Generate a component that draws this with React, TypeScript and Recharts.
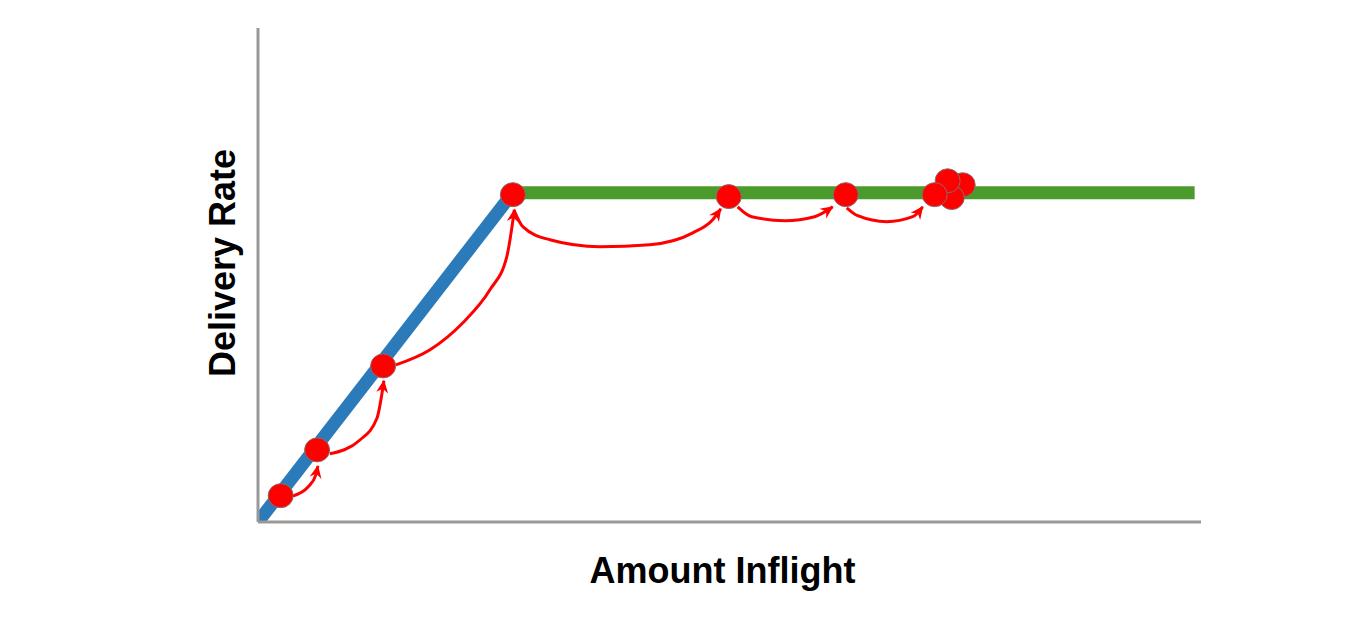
import React from 'react'
import { ComposedChart, Line, Scatter, XAxis, YAxis } from 'recharts'

// x: amount inflight (1 = knee), y: delivery rate (1 = plateau)
const rampLine = [
  { x: 0, y: 0 },
  { x: 1, y: 1 },
]

const plateauLine = [
  { x: 1, y: 1 },
  { x: 3.675, y: 1 },
]

// probe points, drawn in this order (later ones on top)
const probes = [
  { x: 0.089, y: 0.08 },
  { x: 0.232, y: 0.219 },
  { x: 0.491, y: 0.474 },
  { x: 1.0, y: 0.994 },
  { x: 1.847, y: 0.988 },
  { x: 2.306, y: 0.994 },
  { x: 2.765, y: 1.024 },
  { x: 2.722, y: 0.985 },
  { x: 2.706, y: 1.036 },
  { x: 2.655, y: 0.994 },
]

// curved arrows between successive probes
const arrowXs = [
  [0.137, 0.196, 0.227, 0.235],
  [0.282, 0.4, 0.467, 0.494],
  [0.541, 0.675, 0.804, 0.91, 0.976, 1.006],
  [1.004, 1.039, 1.145, 1.341, 1.537, 1.706, 1.784, 1.816],
  [1.882, 1.937, 2.067, 2.184, 2.255],
  [2.31, 2.353, 2.467, 2.569, 2.608],
]
const arrowYs = [
  [0.079, 0.106, 0.143, 0.17],
  [0.207, 0.249, 0.316, 0.429],
  [0.477, 0.523, 0.605, 0.705, 0.805, 0.948],
  [0.948, 0.897, 0.857, 0.836, 0.842, 0.878, 0.918, 0.951],
  [0.957, 0.927, 0.915, 0.927, 0.957],
  [0.954, 0.93, 0.912, 0.927, 0.957],
]

const arrows = arrowXs.map((xs, i) => xs.map((x, j) => ({ x, y: arrowYs[i][j] })))

const font = '"Liberation Sans", Arial, sans-serif'

const ProbeDot = (props: any) => {
  const { cx, cy } = props
  return <ellipse cx={cx} cy={cy} rx={12.5} ry={12} fill="#ff0000" stroke="#8a6a6a" strokeWidth={1} />
}

export default function App() {
  return (
    <div style={{ position: 'relative' }}>
      <svg width={0} height={0} style={{ position: 'absolute' }}>
        <defs>
          <marker
            id="arrowHead"
            markerUnits="userSpaceOnUse"
            markerWidth={16}
            markerHeight={16}
            refX={12}
            refY={7}
            orient="auto"
          >
            <path d="M0,1 L13,7 L0,13 L4,7 z" fill="#ff0000" />
          </marker>
        </defs>
      </svg>
      <ComposedChart
        width={1350}
        height={619}
        margin={{ top: 20, right: 157, bottom: 25, left: 170 }}
      >
        <XAxis
          dataKey="x"
          type="number"
          domain={[0, 3.7]}
          allowDataOverflow
          tick={false}
          tickLine={false}
          height={80}
          axisLine={{ stroke: '#999', strokeWidth: 3 }}
          label={{
            value: 'Amount Inflight',
            position: 'center',
            dx: -7,
            dy: 8,
            style: { fontFamily: font, fontSize: 36, fontWeight: 'bold', fill: '#000' },
          }}
        />
        <YAxis
          dataKey="y"
          type="number"
          domain={[0, 1.5]}
          allowDataOverflow
          tick={false}
          tickLine={false}
          width={80}
          axisLine={{ stroke: '#999', strokeWidth: 3 }}
          label={{
            value: 'Delivery Rate',
            angle: -90,
            position: 'center',
            dx: 4,
            dy: -12,
            style: { fontFamily: font, fontSize: 36, fontWeight: 'bold', fill: '#000' },
          }}
        />
        <Line
          data={rampLine}
          dataKey="y"
          type="linear"
          stroke="#2b7bba"
          strokeWidth={13}
          dot={false}
          activeDot={false}
          isAnimationActive={false}
        />
        <Line
          data={plateauLine}
          dataKey="y"
          type="linear"
          stroke="#4a9a2c"
          strokeWidth={13}
          dot={false}
          activeDot={false}
          isAnimationActive={false}
        />
        {arrows.map((a, i) => (
          <Line
            key={'arrow' + i}
            data={a}
            dataKey="y"
            type="monotone"
            stroke="#ff0000"
            strokeWidth={3}
            dot={false}
            activeDot={false}
            markerEnd="url(#arrowHead)"
            isAnimationActive={false}
          />
        ))}
        <Scatter data={probes} dataKey="y" shape={<ProbeDot />} isAnimationActive={false} />
      </ComposedChart>
    </div>
  )
}
